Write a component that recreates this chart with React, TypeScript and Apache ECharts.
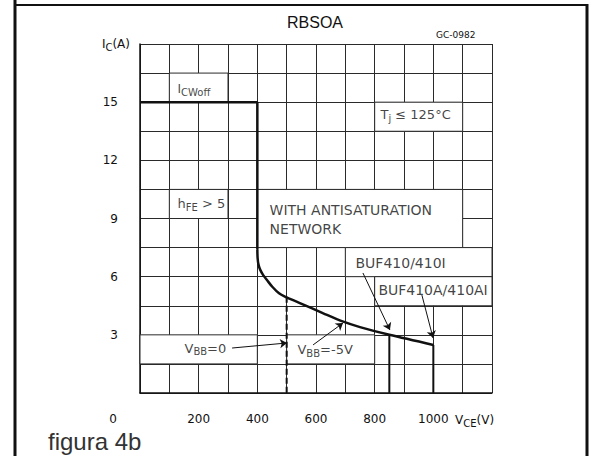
import React, { useEffect, useRef } from "react";
import * as echarts from "echarts";

// ---- axis ticks ----
const vceTickLabels = [0, 200, 400, 600, 800, 1000];
const icTickLabels = [3, 6, 9, 12, 15];

// ---- I_CWoff limit then vertical drop at 400 V ----
const limitV = [0, 400, 400];
const limitI = [15, 15, 7.4];

// ---- RBSOA curve (VBB = -5V) ----
const curveV = [400, 401, 404, 410, 420, 434, 451, 474, 494, 545, 625, 693, 750, 850, 1000];
const curveI = [7.4, 6.95, 6.62, 6.35, 6.08, 5.8, 5.48, 5.14, 4.97, 4.64, 4.11, 3.68, 3.4, 3.0, 2.48];

// ---- VBB = 0 limit (dashed) ----
const vbb0V = [500, 500];
const vbb0I = [4.97, 0];

// ---- device voltage limits ----
const buf410V = [850, 850];
const buf410I = [3.0, 0];
const buf410aV = [1000, 1000];
const buf410aI = [2.48, 0];

// ---- label boxes (white cells on grid): [v1, v2, i1, i2] ----
const boxes = [
  [100, 300, 15, 16.5],
  [100, 300, 9, 10.5],
  [800, 1100, 13.5, 15],
  [400, 1100, 7.5, 10.5],
  [700, 1200, 6, 7.5],
  [800, 1200, 4.5, 6],
  [0, 400, 1.5, 3],
  [500, 800, 1.5, 3],
];

// ---- annotation texts ----
const noteTexts = [
  "I{sub|CWoff}",
  "h{sub|FE} > 5",
  "T{sub|j} ≤ 125°C",
  "WITH ANTISATURATION\nNETWORK",
  "BUF410/410I",
  "BUF410A/410AI",
  "V{sub|BB}=0",
  "V{sub|BB}=-5V",
];
const noteV = [126, 126, 818, 440, 733, 811, 150, 535];
const noteI = [15.68, 9.75, 14.34, 8.95, 6.71, 5.31, 2.32, 2.22];
const noteSize = [12, 13, 13, 14, 14, 14, 13, 13];

// ---- arrows: [vFrom, iFrom, vTo, iTo] ----
const arrows = [
  [760, 6.19, 852, 3.25],
  [961, 5.05, 999, 2.84],
  [314, 2.32, 501, 2.58],
  [590, 2.48, 692, 3.61],
];

const FONT = '"DejaVu Sans", sans-serif';
const INK = "#111";

const zip = (a: number[], b: number[]) => a.map((v, k) => [v, b[k]]);

export default function App() {
  const ref = useRef<HTMLDivElement>(null);
  useEffect(() => {
    if (!ref.current) return;
    const chart = echarts.init(ref.current, undefined, { renderer: "svg" });
    const subStyle = { fontSize: 10, fontFamily: FONT, color: INK, padding: [7, 0, 0, 0] };
    chart.setOption({
      animation: false,
      backgroundColor: "#fff",
      title: {
        text: "RBSOA",
        left: 282,
        top: 9,
        textStyle: { fontSize: 16, fontWeight: "normal", fontFamily: '"Liberation Sans", Arial, sans-serif', color: INK },
      },
      grid: { left: 140, top: 44, width: 352, height: 349 },
      xAxis: {
        type: "value",
        min: 0,
        max: 1200,
        interval: 100,
        axisLine: { show: true, lineStyle: { color: INK, width: 1.5 } },
        axisTick: { show: false },
        splitLine: { show: true, lineStyle: { color: "#2a2a2a", width: 1 } },
        axisLabel: {
          margin: 20,
          fontSize: 12,
          fontFamily: FONT,
          color: INK,
          formatter: (v: number) => (vceTickLabels.includes(v) ? (v === 0 ? "{z|0}" : String(v)) : ""),
          rich: { z: { fontSize: 12, fontFamily: FONT, color: INK, padding: [0, 54, 0, 0] } },
        },
        name: "V{sub|CE}(V)",
        nameLocation: "end",
        nameGap: -37,
        nameTextStyle: {
          fontSize: 12,
          fontFamily: FONT,
          color: INK,
          align: "left",
          verticalAlign: "top",
          padding: [18, 0, 0, 0],
          rich: { sub: subStyle },
        },
      },
      yAxis: {
        type: "value",
        min: 0,
        max: 18,
        interval: 1.5,
        axisLine: { show: true, lineStyle: { color: INK, width: 1.5 } },
        axisTick: { show: false },
        splitLine: { show: true, lineStyle: { color: "#2a2a2a", width: 1 } },
        axisLabel: {
          margin: 22,
          fontSize: 12,
          fontFamily: FONT,
          color: INK,
          formatter: (v: number) => (icTickLabels.includes(v) ? String(v) : ""),
        },
        name: "I{sub|C}(A)",
        nameLocation: "end",
        nameGap: 0,
        nameTextStyle: {
          fontSize: 12,
          fontFamily: FONT,
          color: INK,
          align: "right",
          verticalAlign: "middle",
          padding: [0, 10, 0, 0],
          rich: { sub: subStyle },
        },
      },
      graphic: [
        { type: "line", shape: { x1: 15, y1: 0, x2: 15, y2: 456 }, style: { stroke: INK, lineWidth: 3 } },
        { type: "line", shape: { x1: 14, y1: 5, x2: 588, y2: 5 }, style: { stroke: INK, lineWidth: 2 } },
        { type: "line", shape: { x1: 587, y1: 4, x2: 587, y2: 456 }, style: { stroke: INK, lineWidth: 3 } },
        {
          type: "text",
          x: 436,
          y: 35,
          style: { text: "GC-0982", fontSize: 9, fontFamily: FONT, fill: INK, verticalAlign: "middle" },
        },
        {
          type: "text",
          x: 48,
          y: 441,
          style: {
            text: "figura 4b",
            fontSize: 24,
            fontFamily: '"Liberation Sans", Arial, sans-serif',
            fill: "#333",
            verticalAlign: "middle",
          },
        },
      ],
      series: [
        {
          name: "boxes",
          type: "line",
          data: [],
          z: 1,
          silent: true,
          markArea: {
            silent: true,
            itemStyle: { color: "#fff", borderColor: "#2a2a2a", borderWidth: 1 },
            label: { show: false },
            data: boxes.map((b) => [{ coord: [b[0], b[2]] }, { coord: [b[1], b[3]] }]),
          },
        },
        {
          name: "I_CWoff limit",
          type: "line",
          data: zip(limitV, limitI),
          symbol: "none",
          z: 3,
          lineStyle: { color: INK, width: 2.5 },
        },
        {
          name: "RBSOA curve",
          type: "line",
          data: zip(curveV, curveI),
          symbol: "none",
          smooth: 0.3,
          z: 3,
          lineStyle: { color: INK, width: 2.5 },
        },
        {
          name: "VBB=0",
          type: "line",
          data: zip(vbb0V, vbb0I),
          symbol: "none",
          z: 3,
          lineStyle: { color: INK, width: 2, type: [6, 3] },
        },
        {
          name: "BUF410",
          type: "line",
          data: zip(buf410V, buf410I),
          symbol: "none",
          z: 3,
          lineStyle: { color: INK, width: 2 },
        },
        {
          name: "BUF410A",
          type: "line",
          data: zip(buf410aV, buf410aI),
          symbol: "none",
          z: 3,
          lineStyle: { color: INK, width: 2 },
        },
        {
          name: "arrows",
          type: "line",
          data: [],
          z: 4,
          silent: true,
          markLine: {
            silent: true,
            symbol: ["none", "arrow"],
            symbolSize: 7,
            label: { show: false },
            lineStyle: { color: INK, width: 1, type: "solid" },
            data: arrows.map((a) => [{ coord: [a[0], a[1]] }, { coord: [a[2], a[3]] }]),
          },
        },
        {
          name: "notes",
          type: "scatter",
          z: 5,
          silent: true,
          symbolSize: 1,
          itemStyle: { color: "rgba(0,0,0,0)" },
          label: {
            show: true,
            position: "right",
            distance: 0,
            color: INK,
            fontFamily: FONT,
            lineHeight: 19,
            rich: { sub: subStyle },
          },
          data: noteTexts.map((t, k) => ({
            value: [noteV[k], noteI[k]],
            label: { formatter: t, fontSize: noteSize[k] },
          })),
        },
      ],
    });
    return () => chart.dispose();
  }, []);
  return (
    <div
      ref={ref}
      style={{ position: "fixed", left: 0, top: 0, width: 590, height: 456, background: "#fff" }}
    />
  );
}
